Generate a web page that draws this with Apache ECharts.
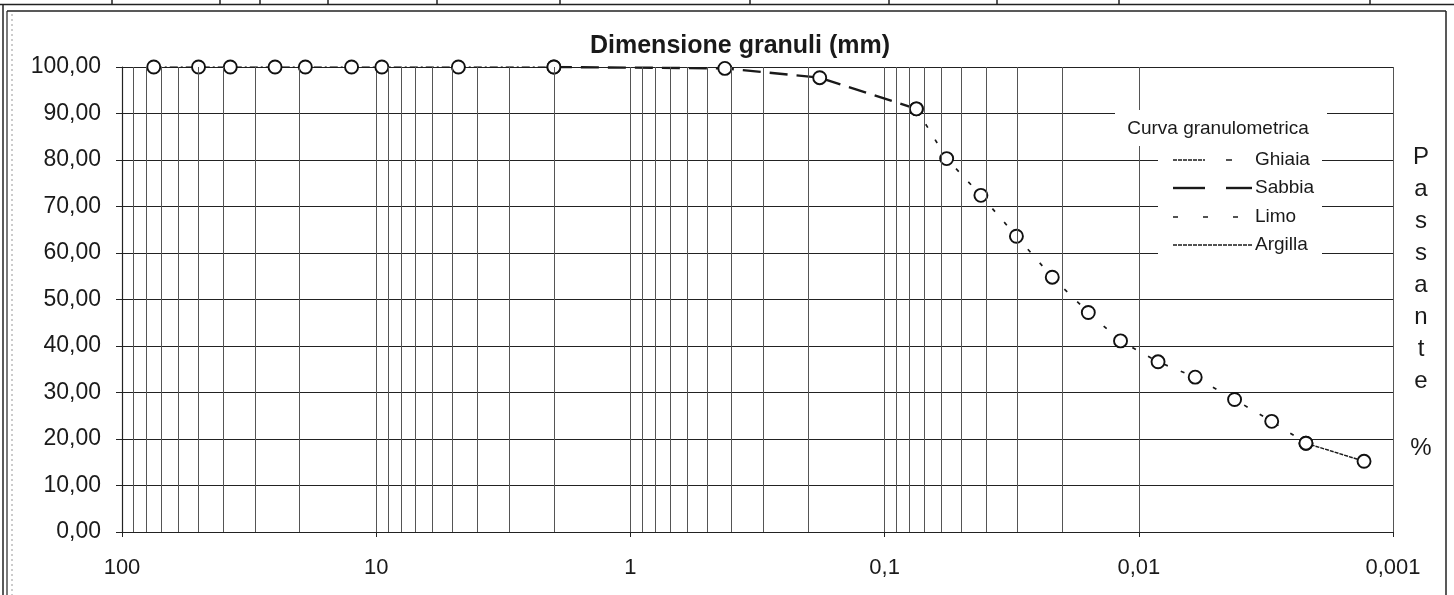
<!DOCTYPE html>
<html>
<head>
<meta charset="utf-8">
<script src="https://cdn.jsdelivr.net/npm/echarts@6/dist/echarts.min.js"></script>
<style>
  html, body { margin: 0; padding: 0; background: #fff; }
  #chart { width: 1454px; height: 595px; }
</style>
</head>
<body>
<div id="chart"></div>
<script>
// curva granulometrica: diametri (mm) e passante (%)
var diametri = [75, 50, 37.5, 25, 19, 12.5, 9.5, 4.75, 2, 0.425, 0.18, 0.075, 0.057, 0.0418, 0.0303, 0.0219, 0.0158, 0.0118, 0.0084, 0.0060, 0.0042, 0.0030, 0.0022, 0.0013];
var passante = [100, 100, 100, 100, 100, 100, 100, 100, 100, 99.7, 97.7, 91.0, 80.3, 72.4, 63.6, 54.8, 47.2, 41.1, 36.6, 33.3, 28.5, 23.8, 19.1, 15.2];

// tratti della curva (indice iniziale / finale dei punti)
var frazioni = ['Ghiaia', 'Sabbia', 'Limo', 'Argilla'];
var tratti = [[0, 8], [8, 11], [11, 22], [22, 23]];

// etichette asse x per esponente -3..2
var etichetteX = ['0,001', '0,01', '0,1', '1', '10', '100'];
var lettereY = ['P', 'a', 's', 's', 'a', 'n', 't', 'e', '%'];

var FONT = '"Liberation Sans", Arial, sans-serif';
var INK = '#1a1a1a';

var stili = {
  Ghiaia:  { type: [8, 3, 2, 3], width: 1.5 },
  Sabbia:  { type: [18, 9], width: 2.4 },
  Limo:    { type: [4, 14], width: 1.7 },
  Argilla: { type: [4, 1], width: 1.5 }
};

// linee secondarie della griglia log (2..9 per decade)
var griglia = [];
for (var k = -3; k <= 1; k++) {
  for (var m = 2; m <= 9; m++) {
    griglia.push(parseFloat((m * Math.pow(10, k)).toPrecision(3)));
  }
}

var chart = echarts.init(document.getElementById('chart'));

var series = [{
  type: 'line',
  data: [],
  z: 1,
  silent: true,
  markLine: {
    silent: true,
    symbol: ['none', 'none'],
    label: { show: false },
    animation: false,
    lineStyle: { color: '#555', width: 1, type: 'solid' },
    data: griglia.map(function (v) { return { xAxis: v }; })
  }
}];

frazioni.forEach(function (nome, i) {
  var pts = [];
  for (var j = tratti[i][0]; j <= tratti[i][1]; j++) {
    pts.push([diametri[j], passante[j]]);
  }
  series.push({
    name: nome,
    type: 'line',
    z: 3,
    data: pts,
    symbol: 'circle',
    symbolSize: 13,
    showAllSymbol: true,
    itemStyle: { color: '#fff', borderColor: '#111', borderWidth: 1.9 },
    lineStyle: { color: INK, width: stili[nome].width, type: stili[nome].type },
    animation: false
  });
});

// legenda disegnata a mano
var legX0 = 1173, legX1 = 1205, legX2 = 1226, legX3 = 1252;
var legRows = [160, 188, 217, 245];
var graphic = [
  // cornice del foglio
  { type: 'line', shape: { x1: 0, y1: 4.5, x2: 1454, y2: 4.5 }, style: { stroke: '#222', lineWidth: 1.5 } },
  { type: 'line', shape: { x1: 7, y1: 11, x2: 1446, y2: 11 }, style: { stroke: '#222', lineWidth: 1.5 } },
  { type: 'line', shape: { x1: 3, y1: 4, x2: 3, y2: 595 }, style: { stroke: '#222', lineWidth: 1.5 } },
  { type: 'line', shape: { x1: 7, y1: 11, x2: 7, y2: 595 }, style: { stroke: '#222', lineWidth: 1.2 } },
  { type: 'line', shape: { x1: 1446, y1: 11, x2: 1446, y2: 595 }, style: { stroke: '#222', lineWidth: 1.5 } },
  { type: 'line', shape: { x1: 12, y1: 14, x2: 12, y2: 595 }, style: { stroke: '#999', lineWidth: 1, lineDash: [2, 3] } },
  // riquadro titolo legenda
  { type: 'rect', shape: { x: 1115, y: 110, width: 212, height: 36 }, style: { fill: '#fff' }, z: 50 },
  { type: 'rect', shape: { x: 1158, y: 146, width: 164, height: 112 }, style: { fill: '#fff' }, z: 50 },
  { type: 'text', x: 1218, y: 129, z: 51, style: { text: 'Curva granulometrica', font: '19px ' + FONT, fill: INK, align: 'center', verticalAlign: 'middle' } }
];
[112, 220, 260, 328, 437, 560, 750, 889, 997, 1119, 1370].forEach(function (x) {
  graphic.push({ type: 'line', shape: { x1: x, y1: 0, x2: x, y2: 4.5 }, style: { stroke: '#222', lineWidth: 1.5 } });
});
frazioni.forEach(function (nome, i) {
  var y = legRows[i];
  var dash = stili[nome].type;
  if (nome === 'Argilla' || nome === 'Limo') {
    graphic.push({ type: 'line', z: 51, shape: { x1: legX0, y1: y, x2: legX3, y2: y },
      style: { stroke: INK, lineWidth: stili[nome].width, lineDash: nome === 'Limo' ? [5, 25] : dash } });
  } else {
    graphic.push({ type: 'line', z: 51, shape: { x1: legX0, y1: y, x2: legX1, y2: y },
      style: { stroke: INK, lineWidth: stili[nome].width, lineDash: nome === 'Ghiaia' ? [4, 1] : null } });
    graphic.push({ type: 'line', z: 51, shape: { x1: legX2, y1: y, x2: nome === 'Ghiaia' ? 1232 : legX3, y2: y },
      style: { stroke: INK, lineWidth: stili[nome].width } });
  }
  graphic.push({ type: 'text', z: 51, x: 1255, y: y, style: { text: nome, font: '19px ' + FONT, fill: INK, verticalAlign: 'middle' } });
});
// titolo verticale asse y a destra
lettereY.forEach(function (c, i) {
  graphic.push({ type: 'text', x: 1421, y: i < 8 ? 157 + i * 32 : 448, style: {
    text: c, font: '24px ' + FONT, fill: INK, align: 'center', verticalAlign: 'middle' } });
});

chart.setOption({
  backgroundColor: '#fff',
  animation: false,
  title: {
    text: 'Dimensione granuli (mm)',
    left: 735, top: 29, textAlign: 'center',
    textStyle: { fontFamily: FONT, fontSize: 25, fontWeight: 'bold', color: INK }
  },
  grid: { left: 122, right: 61, top: 67, bottom: 63 },
  xAxis: {
    type: 'log',
    logBase: 10,
    min: 0.001,
    max: 100,
    inverse: true,
    axisLine: { show: true, lineStyle: { color: '#222', width: 1.2 } },
    axisTick: { show: true, length: 5, lineStyle: { color: '#222' } },
    axisLabel: {
      fontFamily: FONT, fontSize: 22, color: INK, margin: 25,
      formatter: function (v) { return etichetteX[Math.round(Math.log10(v)) + 3]; }
    },
    splitLine: { show: true, lineStyle: { color: '#555', width: 1 } }
  },
  yAxis: {
    type: 'value',
    min: 0,
    max: 100,
    interval: 10,
    axisLine: { show: true, lineStyle: { color: '#222', width: 1.2 } },
    axisTick: { show: true, length: 6, lineStyle: { color: '#222' } },
    axisLabel: {
      fontFamily: FONT, fontSize: 23, color: INK, margin: 21,
      formatter: function (v) { return v.toFixed(2).replace('.', ','); }
    },
    splitLine: { show: true, lineStyle: { color: '#222', width: 1.2 } }
  },
  graphic: graphic,
  series: series
});
</script>
</body>
</html>
